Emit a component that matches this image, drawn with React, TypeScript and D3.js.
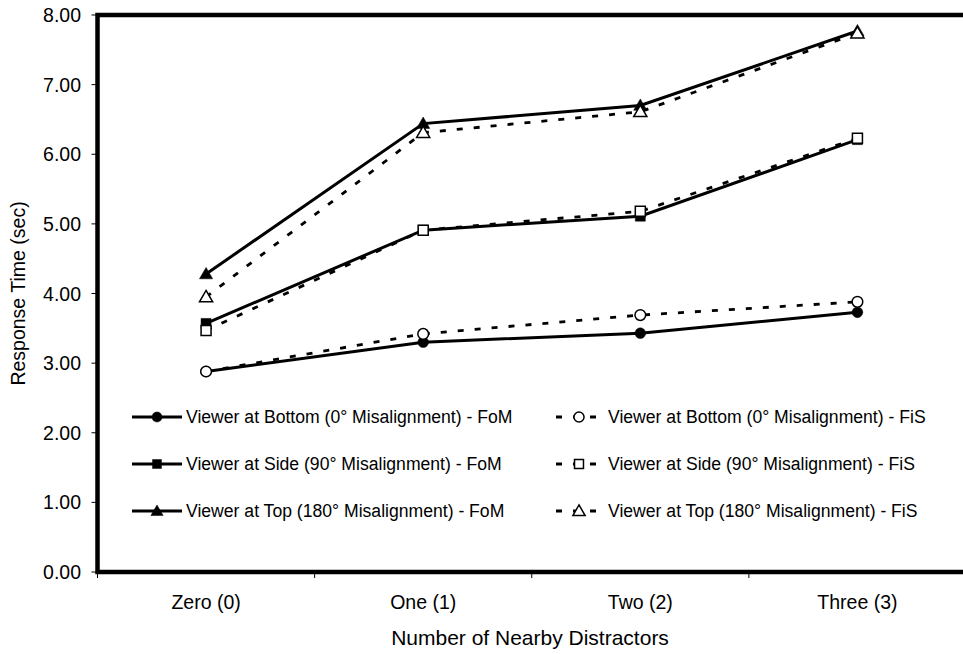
import React from "react";
import * as d3 from "d3";

const categories = ["Zero (0)", "One (1)", "Two (2)", "Three (3)"];
const yTicks = [0, 1, 2, 3, 4, 5, 6, 7, 8];

const bottomFoM = [2.88, 3.3, 3.43, 3.73];
const bottomFiS = [2.88, 3.42, 3.69, 3.88];
const sideFoM = [3.57, 4.91, 5.11, 6.21];
const sideFiS = [3.47, 4.91, 5.18, 6.23];
const topFoM = [4.28, 6.44, 6.7, 7.77];
const topFiS = [3.95, 6.31, 6.61, 7.74];

type Series = { name: string; values: number[]; dashed: boolean; marker: string; filled: boolean };

const series: Series[] = [
  { name: "Viewer at Bottom (0\u00b0 Misalignment) - FoM", values: bottomFoM, dashed: false, marker: "circle", filled: true },
  { name: "Viewer at Side (90\u00b0 Misalignment) - FoM", values: sideFoM, dashed: false, marker: "square", filled: true },
  { name: "Viewer at Top (180\u00b0 Misalignment) - FoM", values: topFoM, dashed: false, marker: "triangle", filled: true },
  { name: "Viewer at Bottom (0\u00b0 Misalignment) - FiS", values: bottomFiS, dashed: true, marker: "circle", filled: false },
  { name: "Viewer at Side (90\u00b0 Misalignment) - FiS", values: sideFiS, dashed: true, marker: "square", filled: false },
  { name: "Viewer at Top (180\u00b0 Misalignment) - FiS", values: topFiS, dashed: true, marker: "triangle", filled: false },
];

const W = 963;
const H = 654;
const left = 97.5;
const plotRight = 966;
const top = 15;
const bottom = 572;
const FONT = "Liberation Sans, Arial, sans-serif";

function Marker({ type, filled, x, y, size }: { type: string; filled: boolean; x: number; y: number; size: number }) {
  const fill = filled ? "#000" : "#fff";
  const sw = filled ? 0.5 : 1.5;
  const sym =
    type === "circle" ? d3.symbolCircle : type === "square" ? d3.symbolSquare : d3.symbolTriangle;
  const path = d3.symbol().type(sym).size(size)()!;
  const dy = type === "triangle" ? 1 : 0;
  return <path d={path} transform={`translate(${x},${y + dy})`} fill={fill} stroke="#000" strokeWidth={sw} />;
}

export default function App() {
  const x = d3.scaleBand<string>().domain(categories).range([left, plotRight]).paddingInner(0).paddingOuter(0);
  const y = d3.scaleLinear().domain([0, 8]).range([bottom, top]);
  const cx = (c: string) => (x(c) as number) + x.bandwidth() / 2;
  const line = d3
    .line<number>()
    .x((_, i) => cx(categories[i]))
    .y((v) => y(v));

  const legendRows = [417, 464, 511];

  return (
    <svg width={W} height={H} style={{ position: "absolute", left: 0, top: 0, background: "#fff" }} fontFamily={FONT}>
      <rect width={W} height={H} fill="#fff" />
      {/* y ticks */}
      {yTicks.map((t) => (
        <g key={t}>
          <line x1={left - 6} x2={left} y1={y(t)} y2={y(t)} stroke="#000" strokeWidth={1} />
          <text x={81} y={y(t)} textAnchor="end" dominantBaseline="central" fontSize={19.5}>
            {d3.format(".2f")(t)}
          </text>
        </g>
      ))}
      {/* x ticks */}
      {categories.map((c) => x(c) as number).map((px, i) => (
        <line key={i} x1={px} x2={px} y1={bottom} y2={bottom + 6} stroke="#000" strokeWidth={1} />
      ))}
      {categories.map((c) => (
        <text key={c} x={cx(c)} y={602} textAnchor="middle" dominantBaseline="central" fontSize={19.5}>
          {c}
        </text>
      ))}
      {/* frame */}
      <path d={`M${plotRight},${top} H${left} V${bottom} H${plotRight}`} fill="none" stroke="#000" strokeWidth={4.5} />
      {/* titles */}
      <text x={530} y={637} textAnchor="middle" dominantBaseline="central" fontSize={21}>
        Number of Nearby Distractors
      </text>
      <text
        transform={`translate(18,${(top + bottom) / 2}) rotate(-90)`}
        textAnchor="middle"
        dominantBaseline="central"
        fontSize={19.5}
      >
        Response Time (sec)
      </text>
      {/* lines */}
      {series.map((s) => (
        <path
          key={s.name + "l"}
          d={line(s.values)!}
          fill="none"
          stroke="#000"
          strokeWidth={s.dashed ? 2.8 : 3}
          strokeDasharray={s.dashed ? "6,11" : undefined}
        />
      ))}
      {/* markers */}
      {series.map((s) =>
        s.values.map((v, i) => (
          <Marker
            key={s.name + i}
            type={s.marker}
            filled={s.filled}
            x={cx(categories[i])}
            y={y(v)}
            size={s.marker === "triangle" ? 75 : s.marker === "square" ? 100 : 90}
          />
        ))
      )}
      {/* legend */}
      {series.map((s, k) => {
        const col = k < 3 ? 0 : 1;
        const row = k % 3;
        const ly = legendRows[row];
        const x0 = col === 0 ? 132 : 556;
        const x1 = col === 0 ? 182 : 602;
        const mx = col === 0 ? 157 : 579;
        const tx = col === 0 ? 186 : 608;
        return (
          <g key={s.name + "leg"}>
            <line
              x1={x0}
              x2={x1}
              y1={ly}
              y2={ly}
              stroke="#000"
              strokeWidth={s.dashed ? 2.8 : 3}
              strokeDasharray={s.dashed ? "6,11" : undefined}
            />
            <Marker type={s.marker} filled={s.filled} x={mx} y={ly} size={s.marker === "triangle" ? 65 : 80} />
            <text x={tx} y={ly} dominantBaseline="central" fontSize={17.6}>
              {s.name}
            </text>
          </g>
        );
      })}
    </svg>
  );
}
